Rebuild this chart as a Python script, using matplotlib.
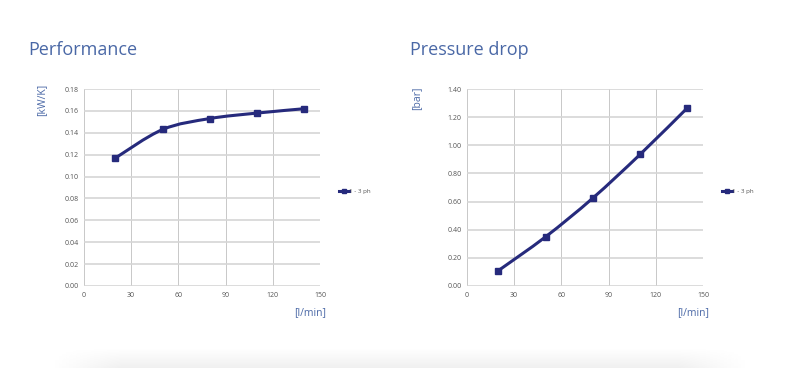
import numpy as np
import matplotlib.pyplot as plt
from matplotlib.path import Path
from matplotlib.patches import PathPatch
from matplotlib.lines import Line2D

# data
flow = [20, 50, 80, 110, 140]
performance = [0.117, 0.143, 0.153, 0.158, 0.162]
pressure = [0.11, 0.35, 0.625, 0.935, 1.265]
series_label = "1 - 3 ph"

plt.rcParams['font.family'] = ['Open Sans', 'DejaVu Sans']

line_col = '#262a7c'
text_col = '#4a68a6'
tick_col = '#555555'

fig = plt.figure(figsize=(8, 3.68), dpi=100)
W, H = 800, 368


def make_axes(left, right, top, bottom):
    return fig.add_axes([left / W, 1 - bottom / H, (right - left) / W, (bottom - top) / H])


def style(ax, ymax, ystep):
    ticks = np.arange(0, ymax + ystep / 2, ystep)
    ax.set_xlim(0, 150)
    ax.set_ylim(0, ymax)
    ax.set_xticks(np.arange(0, 151, 30))
    ax.set_yticks(ticks)
    ax.set_yticklabels(['{:.2f}'.format(v) for v in ticks])
    ax.tick_params(length=0, labelsize=5, colors=tick_col, pad=4)
    for s in ax.spines.values():
        s.set_visible(False)
    ax.grid(axis='x', color='#c8c8c8', lw=0.7)
    ax.grid(axis='y', color='#d6d6d6', lw=1.2)
    ax.set_axisbelow(True)


def smooth_line(ax, xs, ys):
    # bezier segments through the points (Excel-like smoothed line)
    xs = np.asarray(xs, float)
    ys = np.asarray(ys, float)
    verts = [(xs[0], ys[0])]
    codes = [Path.MOVETO]
    n = len(xs)
    for i in range(n - 1):
        p0 = i - 1 if i > 0 else i
        p3 = i + 2 if i + 2 < n else i + 1
        c1 = (xs[i] + (xs[i + 1] - xs[p0]) / 6, ys[i] + (ys[i + 1] - ys[p0]) / 6)
        c2 = (xs[i + 1] - (xs[p3] - xs[i]) / 6, ys[i + 1] - (ys[p3] - ys[i]) / 6)
        verts += [c1, c2, (xs[i + 1], ys[i + 1])]
        codes += [Path.CURVE4] * 3
    ax.add_patch(PathPatch(Path(verts, codes), fc='none', ec=line_col, lw=2.2))
    ax.plot(xs, ys, ls='none', color=line_col, marker='s', ms=4.5)


def legend(ax, x, y):
    h = Line2D([], [], color=line_col, lw=2.2, marker='s', ms=3.5)
    ax.legend([h], [series_label], loc='center left', bbox_to_anchor=(x / W, 1 - y / H),
              bbox_transform=fig.transFigure, frameon=False, fontsize=4.5, handlelength=1.6,
              handletextpad=0.1, labelcolor=tick_col, numpoints=1)


# Performance
ax1 = make_axes(84, 320, 89, 286)
style(ax1, 0.18, 0.02)
smooth_line(ax1, flow, performance)
fig.text(28 / W, 1 - 50 / H, 'Performance', fontsize=13, color=text_col, va='center', ha='left')
fig.text(42 / W, 1 - 100 / H, '[kW/K]', fontsize=7.5, color=text_col, rotation=90, va='center', ha='center')
fig.text(310 / W, 1 - 313 / H, '[l/min]', fontsize=7.5, color=text_col, va='center', ha='center')
legend(ax1, 333, 191)

# Pressure drop
ax2 = make_axes(467, 703, 89, 286)
style(ax2, 1.40, 0.20)
smooth_line(ax2, flow, pressure)
fig.text(410 / W, 1 - 50 / H, 'Pressure drop', fontsize=13, color=text_col, va='center', ha='left')
fig.text(417 / W, 1 - 98 / H, '[bar]', fontsize=7.5, color=text_col, rotation=90, va='center', ha='center')
fig.text(693 / W, 1 - 313 / H, '[l/min]', fontsize=7.5, color=text_col, va='center', ha='center')
legend(ax2, 716, 191)

# soft grey shadow along the bottom edge
shade = fig.add_axes([50 / W, 0, 700 / W, 20 / H])
g = np.linspace(1.0, 0.94, 50).reshape(-1, 1)
x = np.linspace(-1, 1, 200)
edge = np.clip((1 - np.abs(x)) * 5, 0, 1)
img = 1 - (1 - g) * edge[None, :]
shade.imshow(img, cmap='gray', vmin=0, vmax=1, aspect='auto', origin='upper')
shade.axis('off')

fig.savefig('out.png', dpi=100)
